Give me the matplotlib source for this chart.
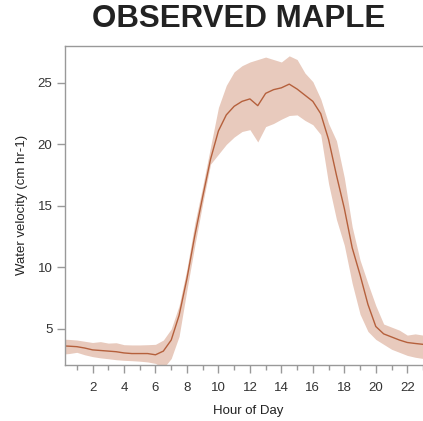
import matplotlib
matplotlib.use("Agg")
import matplotlib.pyplot as plt
import numpy as np

# hours of day (half-hour steps)
horas = np.arange(0, 23.5, 0.5)

# mean water velocity (cm hr-1)
media = [3.63, 3.60, 3.56, 3.45, 3.30, 3.25, 3.20, 3.15, 3.05, 3.00,
         3.00, 3.00, 2.90, 3.20, 4.10, 6.10, 9.10, 12.60, 15.75, 18.80,
         21.10, 22.40, 23.10, 23.50, 23.70, 23.15, 24.15, 24.45, 24.60, 24.90,
         24.50, 24.00, 23.50, 22.50, 20.40, 17.50, 14.80, 11.60, 9.40, 7.00,
         5.20, 4.60, 4.35, 4.10, 3.90, 3.82, 3.75]

# lower and upper band
inferior = [2.95, 3.00, 3.10, 2.90, 2.75, 2.65, 2.58, 2.50, 2.45, 2.42,
            2.38, 2.32, 2.20, 1.80, 2.60, 4.40, 8.20, 11.80, 15.20, 18.40,
            19.20, 20.00, 20.60, 21.05, 21.20, 20.20, 21.45, 21.70, 22.05, 22.35,
            22.40, 21.95, 21.60, 20.80, 16.80, 13.90, 11.80, 8.70, 6.20, 4.80,
            4.15, 3.75, 3.35, 3.10, 2.85, 2.70, 2.60]
superior = [4.18, 4.15, 4.10, 4.00, 3.90, 3.97, 3.85, 3.88, 3.72, 3.70,
            3.70, 3.72, 3.75, 4.10, 5.00, 6.90, 9.90, 13.60, 16.60, 19.80,
            23.00, 24.80, 25.90, 26.40, 26.70, 26.90, 27.10, 26.90, 26.70, 27.20,
            26.90, 25.80, 25.10, 23.70, 21.70, 20.30, 17.30, 13.30, 10.60, 8.70,
            6.90, 5.40, 5.15, 4.90, 4.50, 4.60, 4.50]

plt.rcParams["font.family"] = ["Liberation Sans", "DejaVu Sans"]

fig = plt.figure(figsize=(4.23, 4.21), dpi=100)
ax = fig.add_axes([65/423, 1-365/421, 1-65/423, (365-46)/421])

ax.fill_between(horas, inferior, superior, color="#e8cabd", linewidth=0)
ax.plot(horas, media, color="#b5603c", linewidth=1)

ax.set_xlim(0.25, 22.9)
ax.set_ylim(2.07, 28)
ax.set_xticks(range(2, 23, 2))
ax.set_xticks(range(1, 24, 2), minor=True)
ax.set_yticks([5, 10, 15, 20, 25])

for lado in ["left", "top", "bottom"]:
    ax.spines[lado].set_color("#999999")
    ax.spines[lado].set_linewidth(1)
ax.spines["right"].set_visible(False)

ax.tick_params(axis="both", which="major", direction="out", length=6, width=1,
               color="#999999", labelsize=9.5, labelcolor="#333333", pad=3)
ax.tick_params(axis="x", which="minor", direction="out", length=3.5, width=1,
               color="#999999")
ax.tick_params(axis="x", which="major", pad=6)

fig.text(238.5/423, 1-19/421, "OBSERVED MAPLE", fontsize=22.5, fontweight="bold",
         color="#222222", ha="center", va="center")
fig.text(248.5/423, 1-411/421, "Hour of Day", fontsize=9.5, color="#222222",
         ha="center", va="center")
fig.text(22/423, 1-205/421, "Water velocity (cm hr-1)", fontsize=9.5, color="#222222",
         ha="center", va="center", rotation=90)

fig.savefig("out.png", dpi=100)
